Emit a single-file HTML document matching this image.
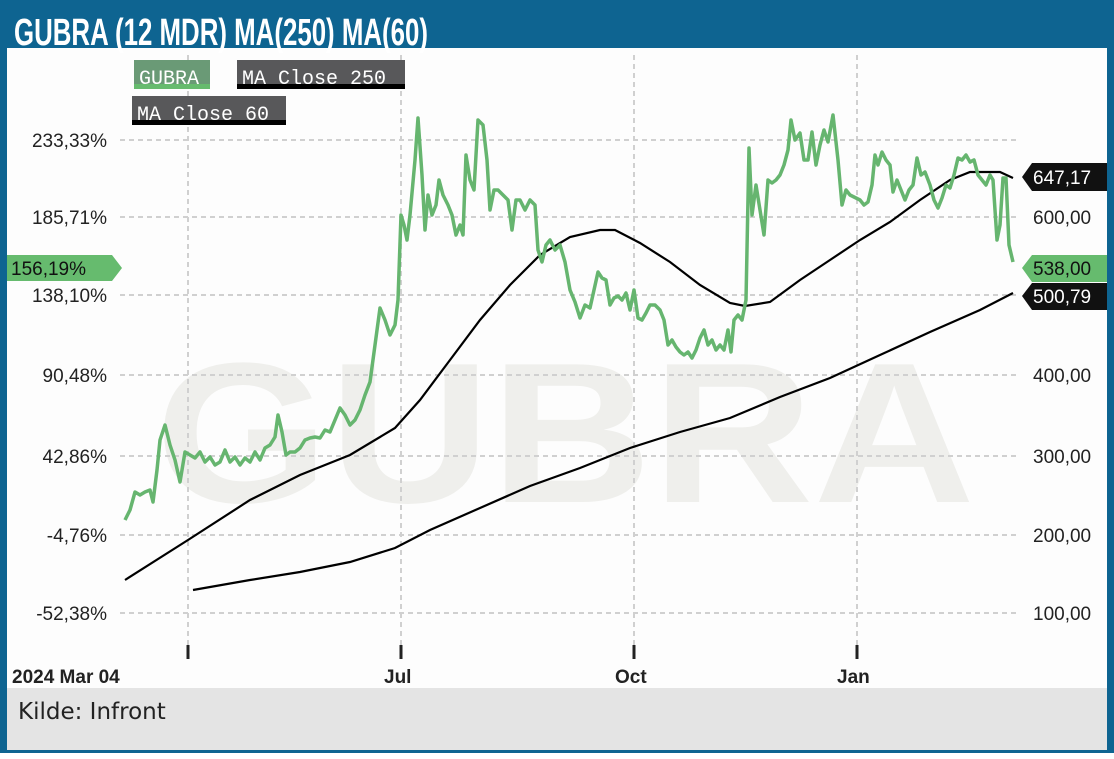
<!DOCTYPE html>
<html><head><meta charset="utf-8"><style>
html,body{margin:0;padding:0;background:#fff;}
svg{display:block;}
</style></head><body>
<svg width="1114" height="759" xmlns="http://www.w3.org/2000/svg" font-family="Liberation Sans, sans-serif">
<rect x="0" y="0" width="1114" height="759" fill="#fff"/>
<rect x="0" y="0" width="1114" height="753" fill="#0e6491"/>
<rect x="7" y="48" width="1100" height="640" fill="#fdfdfd"/>
<rect x="7" y="688" width="1100" height="62" fill="#e4e4e4"/>
<text x="14" y="45" fill="#fff" font-family="Liberation Sans Narrow, Liberation Sans, sans-serif" font-weight="bold" font-size="38" textLength="414" lengthAdjust="spacingAndGlyphs">GUBRA (12 MDR) MA(250) MA(60)</text>
<text x="565" y="502" fill="#efefec" font-weight="bold" font-size="200" text-anchor="middle" textLength="820" lengthAdjust="spacingAndGlyphs">GUBRA</text>
<g stroke="#d0d0d0" stroke-width="2" stroke-dasharray="5,4" fill="none">
<line x1="120" y1="140" x2="1020" y2="140"/><line x1="120" y1="217" x2="1020" y2="217"/>
<line x1="120" y1="295" x2="1020" y2="295"/><line x1="120" y1="375" x2="1020" y2="375"/>
<line x1="120" y1="456" x2="1020" y2="456"/><line x1="120" y1="535" x2="1020" y2="535"/>
<line x1="120" y1="613" x2="1020" y2="613"/>
<line x1="188" y1="55" x2="188" y2="645"/><line x1="401" y1="55" x2="401" y2="645"/>
<line x1="634" y1="55" x2="634" y2="645"/><line x1="857" y1="55" x2="857" y2="645"/>
</g>
<g stroke="#222" stroke-width="3"><line x1="188" y1="645" x2="188" y2="659"/><line x1="401" y1="645" x2="401" y2="659"/><line x1="634" y1="645" x2="634" y2="659"/><line x1="857" y1="645" x2="857" y2="659"/></g>
<g font-size="19" fill="#222" text-anchor="end">
<text x="107" y="147">233,33%</text><text x="107" y="224">185,71%</text><text x="107" y="302">138,10%</text>
<text x="107" y="382">90,48%</text><text x="107" y="463">42,86%</text><text x="107" y="542">-4,76%</text><text x="107" y="620">-52,38%</text>
</g>
<g font-size="19" fill="#222"><text x="1033" y="224">600,00</text><text x="1033" y="382">400,00</text><text x="1033" y="463">300,00</text><text x="1033" y="542">200,00</text><text x="1033" y="620">100,00</text></g>
<path d="M7 255 H112 L122 268 L112 281 H7 Z" fill="#66bb6e"/>
<text x="11" y="275" font-size="19" fill="#111">156,19%</text>
<path d="M1032 163 H1107 V191 H1032 L1022 177 Z" fill="#111"/><text x="1033" y="184" font-size="19" fill="#fff">647,17</text>
<path d="M1032 255 H1107 V282 H1032 L1022 268 Z" fill="#66bb6e"/><text x="1033" y="275" font-size="19" fill="#111">538,00</text>
<path d="M1032 283 H1107 V310 H1032 L1022 296 Z" fill="#111"/><text x="1033" y="303" font-size="19" fill="#fff">500,79</text>
<rect x="134" y="60" width="76" height="29" fill="#6a9a76"/><rect x="134" y="84" width="76" height="5" fill="#66bb6e"/>
<text x="139" y="84" font-family="Liberation Mono, monospace" font-size="20" fill="#fff">GUBRA</text>
<rect x="237" y="60" width="168" height="29" fill="#58585a"/><rect x="237" y="84" width="168" height="5" fill="#000"/>
<svg x="237" y="60" width="168" height="29"><text x="5" y="24" font-family="Liberation Mono, monospace" font-size="20" fill="#fff">MA Close 250</text></svg>
<rect x="132" y="96" width="154" height="29" fill="#58585a"/><rect x="132" y="120" width="154" height="5" fill="#000"/>
<svg x="132" y="96" width="154" height="29"><text x="5" y="24" font-family="Liberation Mono, monospace" font-size="20" fill="#fff">MA Close 60</text></svg>
<polyline fill="none" stroke="#000" stroke-width="2.2" points="125,580 188,540 250,500 300,475 350,455 395,428 420,400 450,360 480,320 510,285 540,255 570,237 600,230 615,230 640,243 670,262 700,285 730,303 745,306 770,302 800,280 830,260 860,240 890,222 920,200 950,180 970,172 990,172 1000,172 1013,178"/>
<polyline fill="none" stroke="#000" stroke-width="2.2" points="193,590 250,580 300,572 350,562 395,548 430,530 480,508 530,486 580,468 630,448 680,432 730,418 780,397 830,378 880,355 930,332 980,310 1013,293"/>
<polyline fill="none" stroke="#66b56f" stroke-width="3.5" stroke-linejoin="round" points="125,520 130,510 135,492 140,495 145,492 150,490 153,502 157,470 160,440 165,425 170,445 175,460 180,482 185,452 190,455 195,458 200,452 205,462 210,457 215,465 220,462 225,450 230,462 235,457 240,465 245,458 250,462 255,452 260,460 265,448 270,445 275,437 278,415 282,432 286,455 290,452 295,452 300,448 305,440 310,438 315,437 320,438 325,430 330,432 335,420 340,408 345,415 350,425 355,420 360,410 365,395 370,382 375,345 380,308 385,320 390,335 395,325 398,300 401,215 404,225 407,240 410,215 415,160 418,118 422,175 425,230 428,195 432,215 436,205 439,180 443,195 448,205 452,215 456,235 460,225 463,235 466,155 470,180 474,190 478,120 483,125 487,160 490,210 494,190 498,190 503,195 508,200 512,230 516,200 520,200 525,210 530,200 535,205 538,250 542,262 546,245 550,240 555,250 560,245 565,262 570,290 575,302 580,318 585,305 590,308 594,290 598,272 602,278 606,280 610,305 614,298 618,296 622,300 626,293 630,310 634,290 638,318 642,320 646,313 650,305 655,305 660,310 664,320 668,345 672,340 676,347 680,352 684,355 688,352 692,358 696,350 700,338 704,330 708,345 712,340 716,350 720,345 724,350 728,330 731,352 734,320 738,315 742,320 746,300 749,148 752,215 756,185 760,210 764,235 768,180 772,183 776,180 780,175 784,165 788,150 791,120 795,140 800,133 804,160 808,160 812,132 816,165 820,145 824,130 828,142 833,115 838,160 842,205 846,190 850,195 856,198 860,200 864,205 868,202 872,185 875,155 878,165 882,152 886,160 890,165 893,192 897,180 901,190 905,200 909,190 913,185 917,158 921,175 925,172 930,185 934,200 938,208 942,198 946,185 950,188 954,175 958,158 962,160 966,155 970,162 974,160 978,175 982,180 986,185 990,175 993,180 997,240 1000,225 1003,178 1006,178 1009,245 1013,262"/>
<g font-size="19" font-weight="bold" fill="#222">
<text x="12" y="683">2024 Mar 04</text><text x="384" y="683">Jul</text><text x="615" y="683">Oct</text><text x="837" y="683">Jan</text>
</g>
<text x="18" y="719" font-size="23" fill="#222" font-family="DejaVu Sans, sans-serif">Kilde: Infront</text>
</svg>
</body></html>
